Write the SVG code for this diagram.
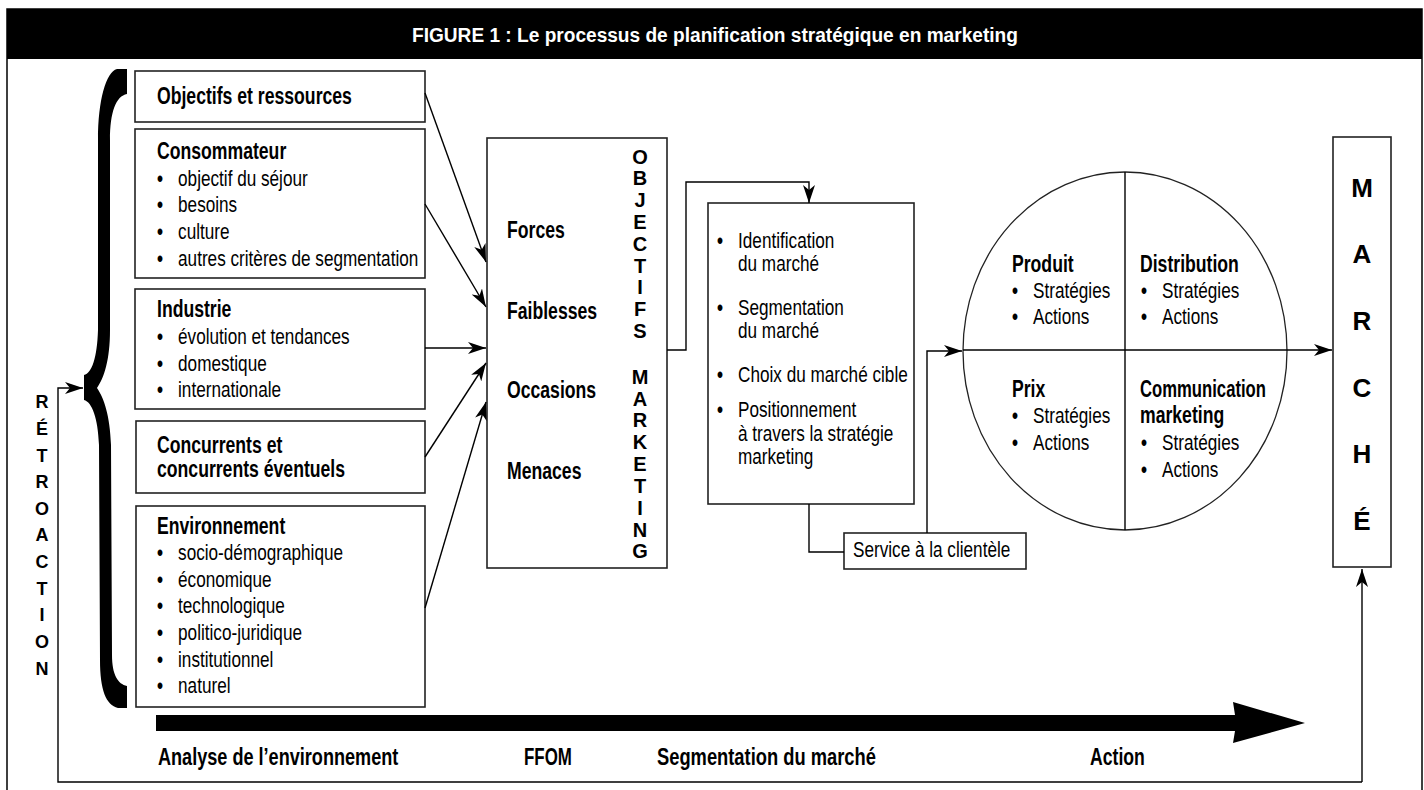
<svg xmlns="http://www.w3.org/2000/svg" width="1424" height="790" viewBox="0 0 1424 790">
<style>
.b{font-family:"Liberation Sans",Arial,sans-serif;font-weight:bold;font-size:23.5px;fill:#000}
.r{font-family:"Liberation Sans",Arial,sans-serif;font-size:22px;fill:#000}
.r tspan.d{font-weight:bold}
.t{font-family:"Liberation Sans",Arial,sans-serif;font-weight:bold;font-size:21px;fill:#fff}
.v{font-family:"Liberation Sans",Arial,sans-serif;font-weight:bold;font-size:20px;text-anchor:middle;fill:#000}
.vr{font-family:"Liberation Sans",Arial,sans-serif;font-weight:bold;font-size:18px;text-anchor:middle;fill:#000}
.vm{font-family:"Liberation Sans",Arial,sans-serif;font-weight:bold;font-size:26px;text-anchor:middle;fill:#000}
.box{fill:#fff;stroke:#222;stroke-width:1.6}
.ln{fill:none;stroke:#000;stroke-width:1.4}
</style>
<defs>
<marker id="ah" markerUnits="userSpaceOnUse" markerWidth="18" markerHeight="12" refX="18" refY="6" orient="auto">
<path d="M0,0 L18,6 L0,12 L5,6 Z" fill="#000"/>
</marker>
</defs>
<rect x="7" y="9" width="1415" height="800" fill="#fff" stroke="#000" stroke-width="1.5"/>
<g id="title">
<rect x="7" y="9" width="1415" height="50" fill="#000"/>
<text class="t" transform="translate(412 42) scale(.91 1)">FIGURE 1 : Le processus de planification stratégique en marketing</text>
</g>
<g id="brace">
<path d="M127,69 L127,94 C116,96 110,112 110,140 L110,330 C110,360 104,378 97,388 C104,398 110,416 111,445 L112,655 C112,675 118,684 127,686 L127,708 L118,708 C106,705 100,690 100,660 L99,445 C98,418 92,402 84,400 L84,375 C92,373 97,358 98,330 L98,140 C98,100 106,72 117,69 Z" fill="#000"/>
</g>
<g id="retroaction" class="vr">
<text x="42" y="408">R</text><text x="42" y="435">É</text><text x="42" y="462">T</text><text x="42" y="488">R</text><text x="42" y="515">O</text><text x="42" y="541">A</text><text x="42" y="568">C</text><text x="42" y="595">T</text><text x="42" y="621">I</text><text x="42" y="648">O</text><text x="42" y="675">N</text>
</g>
<g id="objectifs">
<rect class="box" x="135" y="71" width="290" height="51"/>
<text class="b" transform="translate(157 104) scale(.75 1)">Objectifs et ressources</text>
</g>
<g id="consommateur">
<rect class="box" x="135" y="129" width="290" height="149"/>
<text class="b" transform="translate(157 159) scale(.75 1)">Consommateur</text>
<text class="r" transform="translate(157 186) scale(.78 1)"><tspan class="d">•</tspan><tspan x="27">objectif du séjour</tspan></text>
<text class="r" transform="translate(157 212) scale(.78 1)"><tspan class="d">•</tspan><tspan x="27">besoins</tspan></text>
<text class="r" transform="translate(157 239) scale(.78 1)"><tspan class="d">•</tspan><tspan x="27">culture</tspan></text>
<text class="r" transform="translate(157 266) scale(.78 1)"><tspan class="d">•</tspan><tspan x="27">autres critères de segmentation</tspan></text>
</g>
<g id="industrie">
<rect class="box" x="135" y="289" width="290" height="120"/>
<text class="b" transform="translate(157 317) scale(.75 1)">Industrie</text>
<text class="r" transform="translate(157 344) scale(.78 1)"><tspan class="d">•</tspan><tspan x="27">évolution et tendances</tspan></text>
<text class="r" transform="translate(157 371) scale(.78 1)"><tspan class="d">•</tspan><tspan x="27">domestique</tspan></text>
<text class="r" transform="translate(157 397) scale(.78 1)"><tspan class="d">•</tspan><tspan x="27">internationale</tspan></text>
</g>
<g id="concurrents">
<rect class="box" x="136" y="421" width="289" height="72"/>
<text class="b" transform="translate(157 453) scale(.75 1)">Concurrents et</text>
<text class="b" transform="translate(157 477) scale(.75 1)">concurrents éventuels</text>
</g>
<g id="environnement">
<rect class="box" x="136" y="506" width="289" height="201"/>
<text class="b" transform="translate(157 534) scale(.75 1)">Environnement</text>
<text class="r" transform="translate(157 560) scale(.78 1)"><tspan class="d">•</tspan><tspan x="27">socio-démographique</tspan></text>
<text class="r" transform="translate(157 587) scale(.78 1)"><tspan class="d">•</tspan><tspan x="27">économique</tspan></text>
<text class="r" transform="translate(157 613) scale(.78 1)"><tspan class="d">•</tspan><tspan x="27">technologique</tspan></text>
<text class="r" transform="translate(157 640) scale(.78 1)"><tspan class="d">•</tspan><tspan x="27">politico-juridique</tspan></text>
<text class="r" transform="translate(157 667) scale(.78 1)"><tspan class="d">•</tspan><tspan x="27">institutionnel</tspan></text>
<text class="r" transform="translate(157 693) scale(.78 1)"><tspan class="d">•</tspan><tspan x="27">naturel</tspan></text>
</g>
<g id="ffom">
<rect class="box" x="487" y="138" width="180" height="430"/>
<text class="b" transform="translate(507 238) scale(.75 1)">Forces</text>
<text class="b" transform="translate(507 319) scale(.75 1)">Faiblesses</text>
<text class="b" transform="translate(507 398) scale(.75 1)">Occasions</text>
<text class="b" transform="translate(507 479) scale(.75 1)">Menaces</text>
<g class="v">
<text x="640" y="164">O</text><text x="640" y="185">B</text><text x="640" y="207">J</text><text x="640" y="229">E</text><text x="640" y="251">C</text><text x="640" y="273">T</text><text x="640" y="294">I</text><text x="640" y="316">F</text><text x="640" y="338">S</text>
<text x="640" y="384">M</text><text x="640" y="406">A</text><text x="640" y="427">R</text><text x="640" y="449">K</text><text x="640" y="471">E</text><text x="640" y="493">T</text><text x="640" y="515">I</text><text x="640" y="537">N</text><text x="640" y="558">G</text>
</g>
</g>
<g id="segmentation">
<rect class="box" x="708" y="203" width="206" height="301"/>
<text class="r" transform="translate(717 248) scale(.78 1)"><tspan class="d">•</tspan><tspan x="27">Identification</tspan></text>
<text class="r" transform="translate(738 271) scale(.78 1)">du marché</text>
<text class="r" transform="translate(717 315) scale(.78 1)"><tspan class="d">•</tspan><tspan x="27">Segmentation</tspan></text>
<text class="r" transform="translate(738 338) scale(.78 1)">du marché</text>
<text class="r" transform="translate(717 382) scale(.78 1)"><tspan class="d">•</tspan><tspan x="27">Choix du marché cible</tspan></text>
<text class="r" transform="translate(717 417) scale(.78 1)"><tspan class="d">•</tspan><tspan x="27">Positionnement</tspan></text>
<text class="r" transform="translate(738 441) scale(.78 1)">à travers la stratégie</text>
<text class="r" transform="translate(738 464) scale(.78 1)">marketing</text>
</g>
<g id="service">
<rect class="box" x="844" y="533" width="182" height="36"/>
<text class="r" transform="translate(853 557) scale(.78 1)">Service à la clientèle</text>
</g>
<g id="mix">
<ellipse cx="1125" cy="351" rx="162" ry="179" fill="#fff" stroke="#222" stroke-width="1.3"/>
<line class="ln" x1="1125" y1="172" x2="1125" y2="530"/>
<text class="b" transform="translate(1012 272) scale(.75 1)">Produit</text>
<text class="r" transform="translate(1012 298) scale(.78 1)"><tspan class="d">•</tspan><tspan x="27">Stratégies</tspan></text>
<text class="r" transform="translate(1012 324) scale(.78 1)"><tspan class="d">•</tspan><tspan x="27">Actions</tspan></text>
<text class="b" transform="translate(1140 272) scale(.75 1)">Distribution</text>
<text class="r" transform="translate(1141 298) scale(.78 1)"><tspan class="d">•</tspan><tspan x="27">Stratégies</tspan></text>
<text class="r" transform="translate(1141 324) scale(.78 1)"><tspan class="d">•</tspan><tspan x="27">Actions</tspan></text>
<text class="b" transform="translate(1012 397) scale(.75 1)">Prix</text>
<text class="r" transform="translate(1012 423) scale(.78 1)"><tspan class="d">•</tspan><tspan x="27">Stratégies</tspan></text>
<text class="r" transform="translate(1012 450) scale(.78 1)"><tspan class="d">•</tspan><tspan x="27">Actions</tspan></text>
<text class="b" transform="translate(1140 397) scale(.71 1)">Communication</text>
<text class="b" transform="translate(1140 423) scale(.75 1)">marketing</text>
<text class="r" transform="translate(1141 450) scale(.78 1)"><tspan class="d">•</tspan><tspan x="27">Stratégies</tspan></text>
<text class="r" transform="translate(1141 477) scale(.78 1)"><tspan class="d">•</tspan><tspan x="27">Actions</tspan></text>
</g>
<g id="marche">
<rect class="box" x="1333" y="137" width="58" height="430"/>
<g class="vm">
<text x="1362" y="197">M</text><text x="1362" y="263">A</text><text x="1362" y="330">R</text><text x="1362" y="397">C</text><text x="1362" y="463">H</text><text x="1362" y="530">É</text>
</g>
</g>
<g id="connectors">
<line class="ln" x1="425" y1="93" x2="486" y2="262" marker-end="url(#ah)"/>
<line class="ln" x1="425" y1="204" x2="486" y2="307" marker-end="url(#ah)"/>
<line class="ln" x1="425" y1="348" x2="486" y2="348" marker-end="url(#ah)"/>
<line class="ln" x1="425" y1="457" x2="486" y2="363" marker-end="url(#ah)"/>
<line class="ln" x1="425" y1="608" x2="486" y2="402" marker-end="url(#ah)"/>
<polyline class="ln" points="667,350 686,350 686,182 809,182 809,203" marker-end="url(#ah)"/>
<polyline class="ln" points="809,504 809,552 844,552"/>
<polyline class="ln" points="927,533 927,351 962,351" marker-end="url(#ah)"/>
<line class="ln" x1="963" y1="350" x2="1332" y2="350" marker-end="url(#ah)"/>
<polyline class="ln" points="1362,782 58,782 58,388 83,388" marker-end="url(#ah)"/>
<line class="ln" x1="1362" y1="782" x2="1362" y2="569" marker-end="url(#ah)"/>
</g>
<g id="timeline">
<path d="M156,715 L1235,715 L1233,702 L1305,723 L1233,743 L1235,731 L156,731 Z" fill="#000"/>
<text class="b" transform="translate(158 765) scale(.77 1)">Analyse de l’environnement</text>
<text class="b" transform="translate(524 765) scale(.72 1)">FFOM</text>
<text class="b" transform="translate(657 765) scale(.78 1)">Segmentation du marché</text>
<text class="b" transform="translate(1090 765) scale(.75 1)">Action</text>
</g>
</svg>
